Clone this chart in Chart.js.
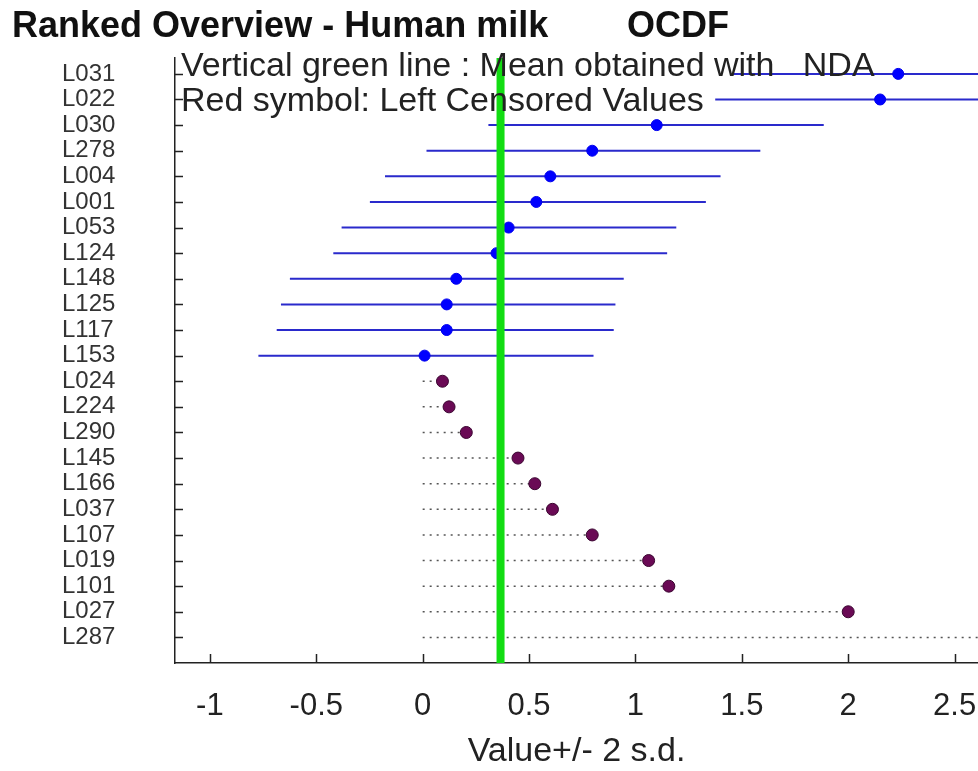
<!DOCTYPE html>
<html lang="en">
<head>
<meta charset="UTF-8">
<title>Ranked Overview - Human milk OCDF</title>
<script src="https://cdn.jsdelivr.net/npm/chart.js"></script>
<style>
  html, body { margin: 0; padding: 0; background: #fff; }
  #wrap { width: 978px; height: 771px; }
</style>
</head>
<body>
<div id="wrap"><canvas id="chart" width="978" height="771"></canvas></div>
<script>
// laboratories, ranked from top to bottom
const labs = ["L031", "L022", "L030", "L278", "L004", "L001", "L053", "L124", "L148", "L125", "L117", "L153",
              "L024", "L224", "L290", "L145", "L166", "L037", "L107", "L019", "L101", "L027", "L287"];

// measured values (first 12 labs) with their +/- 2 s.d. ends
const measuredVal  = [2.235, 2.150, 1.100, 0.797, 0.600, 0.534, 0.404, 0.347, 0.158, 0.113, 0.113, 0.009];
const measuredLow  = [1.460, 1.375, 0.309, 0.018, -0.177, -0.248, -0.381, -0.420, -0.624, -0.666, -0.686, -0.772];
const measuredHigh = [3.010, 2.930, 1.885, 1.587, 1.400, 1.331, 1.192, 1.149, 0.945, 0.906, 0.898, 0.803];

// left censored values (remaining 11 labs)
const censoredVal = [0.093, 0.124, 0.205, 0.448, 0.527, 0.610, 0.797, 1.062, 1.157, 2.000, 3.000];

const meanValue = 0.366;
const xTicks = [-1, -0.5, 0, 0.5, 1, 1.5, 2, 2.5];

const sans = "'Liberation Sans', Arial, sans-serif";

const nMeasured = measuredVal.length;

const errorLines = [];
measuredVal.forEach((v, i) => {
    errorLines.push({ x: measuredLow[i], y: i }, { x: measuredHigh[i], y: i }, { x: measuredHigh[i], y: null });
});
const dottedLines = [];
censoredVal.forEach((v, j) => {
    const i = nMeasured + j;
    dottedLines.push({ x: 0, y: i }, { x: v, y: i }, { x: v, y: null });
});

const extras = {
    id: "extras",
    afterDraw(chart) {
        const { ctx, chartArea, scales: { x, y } } = chart;
        ctx.save();
        // inward tick marks
        ctx.strokeStyle = "#222";
        ctx.lineWidth = 1.5;
        ctx.beginPath();
        y.ticks.forEach(t => {
            const py = Math.round(y.getPixelForValue(t.value)) + 0.5;
            ctx.moveTo(chartArea.left, py);
            ctx.lineTo(chartArea.left + 8, py);
        });
        x.ticks.forEach(t => {
            const px = Math.round(x.getPixelForValue(t.value)) + 0.5;
            ctx.moveTo(px, chartArea.bottom);
            ctx.lineTo(px, chartArea.bottom - 9);
        });
        ctx.stroke();

        // title and notes
        ctx.fillStyle = "#111";
        ctx.textBaseline = "alphabetic";
        ctx.font = "bold 36px " + sans;
        ctx.fillText("Ranked Overview - Human milk", 12, 37);
        ctx.fillText("OCDF", 627, 37);
        ctx.fillStyle = "#222";
        ctx.font = "34px " + sans;
        ctx.fillText("Vertical green line : Mean obtained with   NDA", 181, 76);
        ctx.fillText("Red symbol: Left Censored Values", 181, 111);
        ctx.restore();
    }
};

new Chart(document.getElementById("chart"), {
    type: "line",
    data: {
        datasets: [
            {
                label: "mean",
                data: [{ x: meanValue, y: -1 }, { x: meanValue, y: 24 }],
                borderColor: "#12dd12",
                borderWidth: 8,
                pointRadius: 0,
                order: 1
            },
            {
                label: "measured",
                data: measuredVal.map((v, i) => ({ x: v, y: i })),
                showLine: false,
                pointRadius: 5.5,
                pointBackgroundColor: "#0000ff",
                pointBorderColor: "#0000ee",
                order: 2
            },
            {
                label: "censored",
                data: censoredVal.map((v, j) => ({ x: v, y: nMeasured + j })),
                showLine: false,
                pointRadius: 6,
                pointBackgroundColor: "#6a0a55",
                pointBorderColor: "#3a0530",
                pointBorderWidth: 1,
                order: 2
            },
            {
                label: "2 s.d.",
                data: errorLines,
                borderColor: "#2a2acc",
                borderWidth: 2,
                pointRadius: 0,
                spanGaps: false,
                order: 3
            },
            {
                label: "censored range",
                data: dottedLines,
                borderColor: "#555",
                borderWidth: 1.5,
                borderDash: [2, 5],
                pointRadius: 0,
                spanGaps: false,
                order: 3
            }
        ]
    },
    options: {
        responsive: false,
        devicePixelRatio: 1,
        animation: false,
        layout: { padding: { left: 62, top: 58, right: 0, bottom: 0 }, autoPadding: false },
        plugins: { legend: { display: false }, tooltip: { enabled: false }, title: { display: false } },
        scales: {
            x: {
                type: "linear",
                min: -1.164,
                max: 2.61,
                afterBuildTicks: s => { s.ticks = xTicks.map(v => ({ value: v })); },
                afterFit: s => { s.height = 108; s.paddingLeft = 0; s.paddingRight = 0; },
                grid: { drawOnChartArea: false, drawTicks: false },
                border: { color: "#222", width: 1.5 },
                ticks: {
                    padding: 25,
                    color: "#222",
                    maxRotation: 0,
                    font: { family: sans, size: 31 },
                    callback: v => String(v)
                },
                title: {
                    display: true,
                    text: "Value+/- 2 s.d.",
                    color: "#222",
                    font: { family: sans, size: 34, lineHeight: 1 },
                    padding: { top: 0, bottom: 2 }
                }
            },
            y: {
                type: "linear",
                reverse: true,
                min: -0.62,
                max: 23,
                afterBuildTicks: s => { s.ticks = labs.map((l, i) => ({ value: i })); },
                afterFit: s => { s.width = 113; },
                grid: { drawOnChartArea: false, drawTicks: false },
                border: { color: "#222", width: 1.5 },
                ticks: {
                    crossAlign: "far",
                    color: "#333",
                    font: { family: sans, size: 24 },
                    autoSkip: false,
                    callback: v => labs[v]
                }
            }
        }
    },
    plugins: [extras]
});
</script>
</body>
</html>
